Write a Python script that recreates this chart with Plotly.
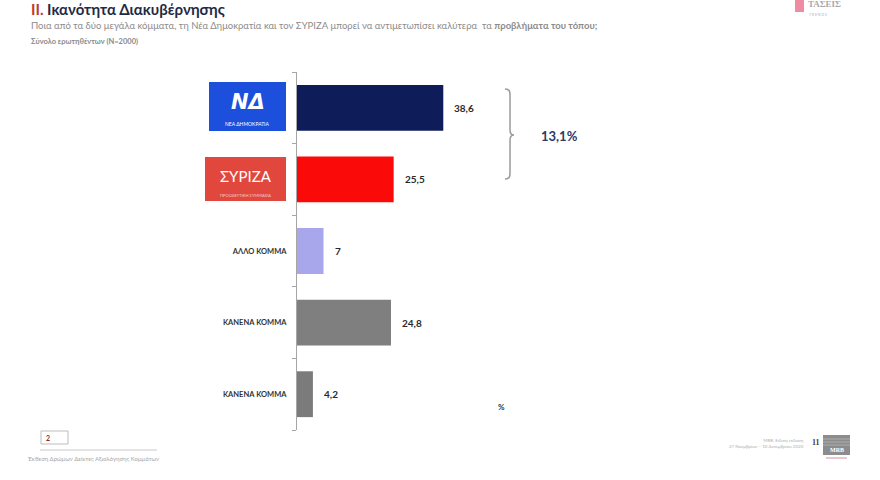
import plotly.graph_objects as go

# ---- data ----
categories = ["ΝΕΑ ΔΗΜΟΚΡΑΤΙΑ", "ΣΥΡΙΖΑ", "ΑΛΛΟ ΚΟΜΜΑ", "ΚΑΝΕΝΑ ΚΟΜΜΑ", "ΚΑΝΕΝΑ ΚΟΜΜΑ"]
values = [38.6, 25.5, 7, 24.8, 4.2]
bar_colors = ["#0e1d5a", "#fb0a0a", "#a9a7ec", "#7f7f7f", "#7b7b7b"]
logo_rows = [True, True, False, False, False]

W, H = 880, 480
L, R, T, B = 297, 800, 72, 430
XMAX = (R - L) / 3.79

def fmt(v):
    return f"{v:g}".replace(".", ",")

def px(x):
    return (x - L) / (R - L)

def py(y):
    return (B - y) / (B - T)

pos = list(range(len(categories)))
FONT = "Lato, 'Open Sans', sans-serif"

fig = go.Figure()
fig.add_trace(go.Bar(
    x=values, y=pos, orientation="h",
    marker=dict(color=bar_colors, line=dict(width=0)),
    width=0.64, hoverinfo="skip",
))

ticktext = ["" if lg else f"<b>{c}</b>" for c, lg in zip(categories, logo_rows)]

annotations = []
# value labels
for i, v in enumerate(values):
    annotations.append(dict(x=v, y=i, xref="x", yref="y", text=f"<b>{fmt(v)}</b>",
                            showarrow=False, xanchor="left", xshift=9,
                            font=dict(size=10, color="#2a2a2a", family=FONT)))

def note(x, y, text, size, color, family=FONT, xanchor="center", **kw):
    annotations.append(dict(x=px(x), y=py(y), xref="paper", yref="paper",
                            xanchor=xanchor, yanchor="middle", text=text, showarrow=False,
                            font=dict(size=size, color=color, family=family), **kw))

shapes = []
# logos for the two main parties
nd_i, sy_i = 0, 1
shapes.append(dict(type="rect", xref="paper", yref="paper",
                   x0=px(209), x1=px(286), y0=py(131), y1=py(82),
                   fillcolor="#1c4fdc", line=dict(width=0), layer="above"))
note(247.5, 102, "<b><i>ΝΔ</i></b>", 21, "white", "DejaVu Sans")
note(247.5, 124.5, "ΝΕΑ ΔΗΜΟΚΡΑΤΙΑ", 5, "white")
shapes.append(dict(type="rect", xref="paper", yref="paper",
                   x0=px(205), x1=px(286), y0=py(201), y1=py(157),
                   fillcolor="#e2473d", line=dict(width=0), layer="above"))
note(245.5, 176, "ΣΥΡΙΖΑ", 15, "white")
note(245.5, 195, "ΠΡΟΟΔΕΥΤΙΚΗ ΣΥΜΜΑΧΙΑ", 4, "#f6d0cc")

# bracket and difference
def P(x, y):
    return f"{px(x):.5f},{py(y):.5f}"

path = (f"M {P(505,89)} Q {P(510,89)} {P(510,94)} L {P(510,130)} "
        f"Q {P(510,135)} {P(514,135)} Q {P(510,135)} {P(510,140)} "
        f"L {P(510,174)} Q {P(510,179)} {P(505,179)}")
shapes.append(dict(type="path", xref="paper", yref="paper", path=path,
                   line=dict(color="#9a9a9a", width=1.5)))
diff = round(values[nd_i] - values[sy_i], 1)
note(559, 136, f"<b>{fmt(diff)}%</b>", 13, "#2c3a66")
note(501, 407, "<b>%</b>", 8, "#333")

# titles
note(29, 9, "<b><span style='color:#c0392b'>II.</span> Ικανότητα Διακυβέρνησης</b>",
     15, "#1f2a44", xanchor="left")
note(29, 26, "Ποια από τα δύο μεγάλα κόμματα, τη Νέα Δημοκρατία και τον ΣΥΡΙΖΑ μπορεί να αντιμετωπίσει καλύτερα  τα <b>προβλήματα του τόπου;</b>",
     9.5, "#8c8c8c", xanchor="left")
note(29, 42, "<b>Σύνολο ερωτηθέντων (Ν=2000)</b>", 7.5, "#8a8a8a", xanchor="left")

# top-right logo
shapes.append(dict(type="rect", xref="paper", yref="paper",
                   x0=px(795), x1=px(804), y0=py(12), y1=py(0),
                   fillcolor="#e85a7a", line=dict(width=0), opacity=0.7))
note(806, 4, "<b>ΤΑΣΕΙΣ</b>", 9, "#a9a9a9", "Liberation Serif", xanchor="left")
note(807, 15, "T R E N D S", 3.5, "#b0b0b0", xanchor="left")

# footer left
shapes.append(dict(type="rect", xref="paper", yref="paper",
                   x0=px(41), x1=px(68), y0=py(444), y1=py(431),
                   fillcolor="white", line=dict(color="#bdbdbd", width=1)))
note(48, 437.5, "<b>2</b>", 7, "#7a3030")
shapes.append(dict(type="line", xref="paper", yref="paper",
                   x0=px(40), x1=px(157), y0=py(450), y1=py(450),
                   line=dict(color="#c8c8c8", width=1)))
note(26, 458, "Έκθεση Δρώμων Δείκτες Αξιολόγησης Κομμάτων", 6, "#a8a8a8", xanchor="left")
# footer right
note(806, 443, "MRB, Ειδική έκδοση<br>27 Νοεμβρίου – 10 Δεκεμβρίου 2020", 4.5, "#b0b0b0",
     xanchor="right", align="right")
note(816, 442, "<b>11</b>", 8, "#404040", "Liberation Serif")
shapes.append(dict(type="rect", xref="paper", yref="paper",
                   x0=px(823), x1=px(850), y0=py(455), y1=py(435),
                   fillcolor="#8c8c8c", line=dict(width=0)))
for yy in (439, 442, 445):
    shapes.append(dict(type="line", xref="paper", yref="paper",
                       x0=px(823), x1=px(850), y0=py(yy), y1=py(yy),
                       line=dict(color="#b8b8b8", width=0.8)))
note(836.5, 450, "<b>MRB</b>", 6, "white", "Liberation Serif")
shapes.append(dict(type="line", xref="paper", yref="paper",
                   x0=px(826), x1=px(847), y0=py(458), y1=py(458),
                   line=dict(color="#e0a0b0", width=1.2)))

fig.update_layout(
    width=W, height=H, autosize=False,
    margin=dict(l=L, r=W - R, t=T, b=H - B),
    paper_bgcolor="white", plot_bgcolor="white",
    showlegend=False, bargap=0.36,
    font=dict(family=FONT),
    xaxis=dict(range=[0, XMAX], visible=False, fixedrange=True),
    yaxis=dict(range=[len(categories) - 0.5, -0.5], tickmode="array", fixedrange=True,
               tickvals=pos, ticktext=ticktext, ticks="", showgrid=False,
               zeroline=False, showline=True, linecolor="#a6a6a6", linewidth=1,
               ticklabelstandoff=8,
               tickfont=dict(size=7.5, color="#333", family=FONT),
               minor=dict(tickmode="array",
                          tickvals=[p - 0.5 for p in pos] + [len(pos) - 0.5],
                          ticks="outside", ticklen=4, tickcolor="#a6a6a6", showgrid=False)),
    annotations=annotations, shapes=shapes,
)

fig.write_html("out.html", config={"displayModeBar": False},
               post_script="document.body.style.margin='0';document.body.style.overflow='hidden';")
